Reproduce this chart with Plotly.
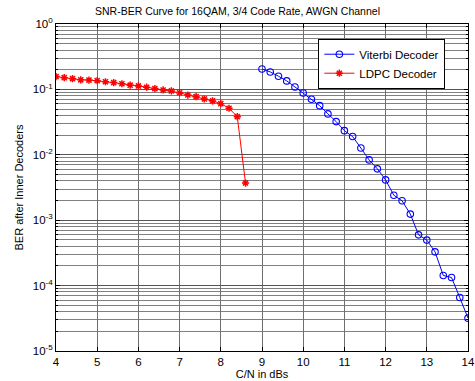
import plotly.graph_objects as go

ldpc_x = [4.0, 4.2, 4.4, 4.6, 4.8, 5.0, 5.2, 5.4, 5.6, 5.8, 6.0, 6.2, 6.4, 6.6, 6.8,
          7.0, 7.2, 7.4, 7.6, 7.8, 8.0, 8.2, 8.4, 8.6]
ldpc_ber = [0.157, 0.151, 0.146, 0.140, 0.139, 0.136, 0.131, 0.127, 0.122, 0.116,
            0.113, 0.108, 0.103, 0.098, 0.0947, 0.089, 0.082, 0.0775, 0.0715, 0.0666,
            0.0606, 0.0515, 0.0383, 0.0037]

vit_x = [9.0, 9.2, 9.4, 9.6, 9.8, 10.0, 10.2, 10.4, 10.6, 10.8, 11.0, 11.2, 11.4,
         11.6, 11.8, 12.0, 12.2, 12.4, 12.6, 12.8, 13.0, 13.2, 13.4, 13.6, 13.8, 14.0]
vit_ber = [0.205, 0.185, 0.159, 0.135, 0.109, 0.0883, 0.0707, 0.0564, 0.0422, 0.0322,
           0.0234, 0.0190, 0.0127, 0.00835, 0.0061, 0.00413, 0.00241, 0.00198, 0.00124,
           0.000597, 0.000496, 0.000328, 0.000143, 0.000133, 6.58e-5, 3.18e-5]

x_ticks = [4, 5, 6, 7, 8, 9, 10, 11, 12, 13, 14]
y_tickvals = [1e-5, 1e-4, 1e-3, 1e-2, 1e-1, 1]
y_ticktext = ["10<sup>-5</sup>", "10<sup>-4</sup>", "10<sup>-3</sup>",
              "10<sup>-2</sup>", "10<sup>-1</sup>", "10<sup>0</sup>"]
y_minor = [m * 10 ** e for e in range(-5, 0) for m in range(2, 10)]

title = "SNR-BER Curve for 16QAM, 3/4 Code Rate, AWGN Channel"
xlabel = "C/N in dBs"
ylabel = "BER after Inner Decoders"

fig = go.Figure()
fig.add_trace(go.Scatter(
    x=vit_x, y=vit_ber, mode="lines+markers", name="Viterbi Decoder",
    line=dict(color="#0000ff", width=1),
    marker=dict(symbol="circle-open", size=6.5, color="#0000ff", line=dict(width=1.1)),
))
fig.add_trace(go.Scatter(
    x=ldpc_x, y=ldpc_ber, mode="lines+markers", name="LDPC Decoder",
    line=dict(color="#ff0000", width=1),
    marker=dict(symbol="asterisk", size=6, color="#ff0000",
                line=dict(color="#ff0000", width=1.5)),
))

font = "Liberation Sans, Arial, sans-serif"
fig.update_layout(
    width=475, height=381,
    margin=dict(l=56, r=7, t=24, b=30, autoexpand=False),
    paper_bgcolor="white", plot_bgcolor="white",
    font=dict(family=font, size=11, color="black"),
    title=dict(text=title, x=0.5, xanchor="center", y=0.98, yanchor="top",
               font=dict(size=10.5, family=font)),
    showlegend=True,
    legend=dict(x=0.945, xanchor="right", y=0.955, yanchor="top",
                bgcolor="white", bordercolor="black", borderwidth=1,
                font=dict(size=11.5, family=font), tracegroupgap=0,
                itemwidth=30),
)
fig.update_xaxes(
    range=[4, 14], tickvals=x_ticks, ticks="inside", ticklen=4, tickcolor="black",
    showline=True, linecolor="black", linewidth=1, mirror="ticks",
    showgrid=True, gridcolor="#6e6e6e", gridwidth=1, zeroline=False,
    title=dict(text=xlabel, standoff=0, font=dict(size=11)),
    tickfont=dict(size=11.5), automargin=False, ticklabeloverflow="allow",
)
fig.update_yaxes(
    type="log", range=[-5, 0], tickvals=y_tickvals, ticktext=y_ticktext,
    ticks="inside", ticklen=4, tickcolor="black",
    showline=True, linecolor="black", linewidth=1, mirror="ticks",
    showgrid=True, gridcolor="#555555", gridwidth=1, zeroline=False,
    minor=dict(tickvals=y_minor, ticks="inside", ticklen=2, tickcolor="black",
               showgrid=True, gridcolor="#808080", gridwidth=1),
    title=dict(text=ylabel, standoff=6, font=dict(size=11)),
    tickfont=dict(size=11.5), automargin=False, ticklabeloverflow="allow",
)

fig.write_html("out.html", config={"displayModeBar": False},
               post_script="document.body.style.margin='0';document.body.style.padding='0';")
